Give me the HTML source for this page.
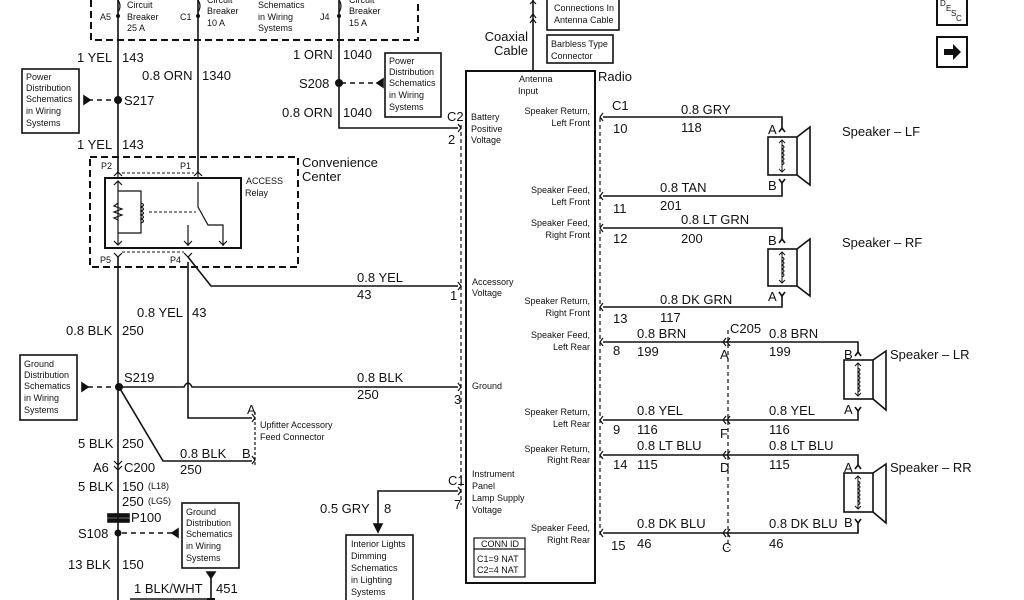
<!DOCTYPE html>
<html><head><meta charset="utf-8"><style>
html,body{margin:0;padding:0;background:#fff;}
svg{display:block;font-family:"Liberation Sans",Arial,sans-serif;}
.l{font-size:13px;fill:#111}
.s{font-size:9px;fill:#111}
.m{font-size:10.5px;fill:#111}
</style></head><body>
<svg width="1024" height="600" viewBox="0 0 1024 600" xmlns="http://www.w3.org/2000/svg" stroke="#111" fill="none" stroke-width="1.6">
<!-- top dashed box -->
<path d="M91 0V40H418V0" stroke-dasharray="7,4" stroke-width="2"/>
<g stroke="none">
<text class="s" x="100" y="20">A5</text>
<text class="s" x="127" y="8">Circuit</text><text class="s" x="127" y="20">Breaker</text><text class="s" x="127" y="31">25 A</text>
<text class="s" x="180" y="20">C1</text>
<text class="s" x="207" y="3">Circuit</text><text class="s" x="207" y="14">Breaker</text><text class="s" x="207" y="26">10 A</text>
<text class="s" x="258" y="8">Schematics</text><text class="s" x="258" y="20">in Wiring</text><text class="s" x="258" y="31">Systems</text>
<text class="s" x="320" y="20">J4</text>
<text class="s" x="349" y="3">Circuit</text><text class="s" x="349" y="14">Breaker</text><text class="s" x="349" y="26">15 A</text>
</g>
<!-- main verticals -->
<path d="M118 0V172M198 0V172M339 0V128H458"/>
<path d="M118 0q4 6 0 12M198 0q4 6 0 12M339 0q4 6 0 12" stroke-width="1.2"/>
<g fill="#111" stroke="none">
<circle cx="118" cy="16" r="2"/><circle cx="198" cy="16" r="2"/><circle cx="339" cy="16" r="2"/>
<circle cx="118" cy="100" r="4"/><circle cx="339" cy="83" r="4"/><circle cx="119" cy="387" r="4"/><circle cx="118" cy="533" r="3.5"/>
</g>
<g stroke="none" class="l">
<text class="l" x="77" y="62">1 YEL</text><text class="l" x="122" y="62">143</text>
<text class="l" x="142" y="80">0.8 ORN</text><text class="l" x="202" y="80">1340</text>
<text class="l" x="124" y="105">S217</text>
<text class="l" x="77" y="149">1 YEL</text><text class="l" x="122" y="149">143</text>
<text class="l" x="293" y="59">1 ORN</text><text class="l" x="343" y="59">1040</text>
<text class="l" x="299" y="88">S208</text>
<text class="l" x="282" y="117">0.8 ORN</text><text class="l" x="343" y="117">1040</text>
<text class="l" x="447" y="121">C2</text><text class="l" x="448" y="144">2</text>
<text class="l" x="302" y="167">Convenience</text><text class="l" x="302" y="181">Center</text>
<text class="l" x="357" y="282">0.8 YEL</text><text class="l" x="357" y="299">43</text><text class="l" x="450" y="300">1</text>
<text class="l" x="137" y="317">0.8 YEL</text><text class="l" x="192" y="317">43</text>
<text class="l" x="66" y="335">0.8 BLK</text><text class="l" x="122" y="335">250</text>
<text class="l" x="124" y="382">S219</text>
<text class="l" x="357" y="382">0.8 BLK</text><text class="l" x="357" y="399">250</text><text class="l" x="454" y="404">3</text>
<text class="l" x="78" y="448">5 BLK</text><text class="l" x="122" y="448">250</text>
<text class="l" x="180" y="458">0.8 BLK</text><text class="l" x="180" y="474">250</text><text class="l" x="242" y="458">B</text>
<text class="l" x="247" y="414">A</text>
<text class="l" x="93" y="472">A6</text><text class="l" x="124" y="472">C200</text>
<text class="l" x="78" y="491">5 BLK</text><text class="l" x="122" y="491">150</text><text class="s" x="148" y="489">(L18)</text>
<text class="l" x="122" y="506">250</text><text class="s" x="148" y="504">(LG5)</text>
<text class="l" x="131" y="522">P100</text>
<text class="l" x="78" y="538">S108</text>
<text class="l" x="68" y="569">13 BLK</text><text class="l" x="122" y="569">150</text>
<text class="l" x="134" y="593">1 BLK/WHT</text><text class="l" x="216" y="593">451</text>
<text class="l" x="320" y="513">0.5 GRY</text><text class="l" x="384" y="513">8</text>
<text class="l" x="448" y="485">C1</text><text class="l" x="454" y="509">7</text>
</g>
<!-- S217 dashed arrow & box -->
<rect x="22" y="69" width="57" height="64"/>
<path d="M88 100H116" stroke-dasharray="5,4"/>
<path d="M84 96l6 4-6 4z" fill="#111"/>
<g stroke="none" class="s"><text x="26" y="80">Power</text><text x="26" y="91">Distribution</text><text x="26" y="102">Schematics</text><text x="26" y="114">in Wiring</text><text x="26" y="126">Systems</text></g>
<!-- S208 box -->
<rect x="385" y="53" width="56" height="64"/>
<path d="M341 83H375" stroke-dasharray="5,4"/>
<path d="M383 79l-6 4 6 4z" fill="#111"/>
<g stroke="none" class="s"><text x="389" y="64">Power</text><text x="389" y="75">Distribution</text><text x="389" y="86">Schematics</text><text x="389" y="98">in Wiring</text><text x="389" y="110">Systems</text></g>
<!-- convenience center -->
<rect x="90" y="157" width="208" height="110" stroke-dasharray="7,4" stroke-width="2"/>
<path d="M118 172V178M198 172V178M114 176l4-4 4 4M194 176l4-4 4 4M114 253l4 4 4-4M184 253l4 4 4-4" stroke-width="1.2"/>
<path d="M122 173H194M122 252H184" stroke-dasharray="3,2" stroke-width="1"/>
<g stroke="none" class="s"><text x="101" y="169">P2</text><text x="180" y="169">P1</text><text x="100" y="263">P5</text><text x="170" y="263">P4</text>
<text x="246" y="184">ACCESS</text><text x="245" y="196">Relay</text></g>
<rect x="105" y="178" width="136" height="70" stroke-width="2"/>
<path d="M118 182V244M118 191H141V233H118" stroke-width="1.2"/>
<path d="M114 185l4-4 4 4M114 241l4 4 4-4" stroke-width="1.2"/>
<path d="M118 203l-4 3 8 3-8 3 8 3-8 3 4 2" stroke-width="1.2"/>
<path d="M141 203q5 2 0 4q5 2 0 4q5 2 0 4q5 2 0 4q5 2 0 4" stroke-width="1.2"/>
<path d="M149 212H196" stroke-dasharray="3,2" stroke-width="1"/>
<path d="M198 182V207L208 225H223V246M188 225V246M184 241l4 4 4-4M219 241l4 4 4-4" stroke-width="1.2"/>
<!-- P4 wire -->
<path d="M188 257L211 286H458M188 262V418H252M118 257V600"/>
<!-- S219 -->
<rect x="20" y="355" width="57" height="65"/>
<path d="M88 387H116" stroke-dasharray="5,4"/>
<path d="M82 383l6 4-6 4z" fill="#111"/>
<g stroke="none" class="s"><text x="24" y="367">Ground</text><text x="24" y="378">Distribution</text><text x="24" y="389">Schematics</text><text x="24" y="401">in Wiring</text><text x="24" y="413">Systems</text></g>
<path d="M119 387H184q4-8 8 0H458M119 387L163 461H252"/>
<path d="M255 412V465" stroke-dasharray="3,2" stroke-width="1.2"/>
<path d="M252 414l3 4-3 4M252 456l3 4-3 4" stroke-width="1.2"/>
<g stroke="none" class="s"><text x="260" y="428">Upfitter Accessory</text><text x="260" y="440">Feed Connector</text></g>
<!-- C200, P100 -->
<path d="M114 461l4 4 4-4M114 466l4 4 4-4" stroke-width="1.2"/>
<rect x="108" y="514" width="21" height="3" fill="#111"/><rect x="108" y="519" width="21" height="3" fill="#111"/>
<rect x="182" y="503" width="57" height="65"/>
<path d="M122 533H172" stroke-dasharray="5,4"/>
<path d="M178 529l-6 4 6 4z" fill="#111"/>
<g stroke="none" class="s"><text x="186" y="515">Ground</text><text x="186" y="526">Distribution</text><text x="186" y="537">Schematics</text><text x="186" y="549">in Wiring</text><text x="186" y="561">Systems</text></g>
<path d="M207 572h8l-4 6z" fill="#111"/>
<path d="M211 578V600M130 599H210"/>
<path d="M207 599h8" stroke-width="2"/>
<!-- C1 pin 7 -->
<path d="M458 491H378V526"/>
<path d="M374 524h8l-4 8z" fill="#111"/>
<rect x="346" y="535" width="67" height="66"/>
<g stroke="none" class="s"><text x="351" y="547">Interior Lights</text><text x="351" y="559">Dimming</text><text x="351" y="571">Schematics</text><text x="351" y="583">in Lighting</text><text x="351" y="595">Systems</text></g>
<!-- radio left connector -->
<path d="M461 125V505" stroke-dasharray="4,3" stroke-width="1.2"/>
<path d="M458 124l3 4-3 4M458 282l3 4-3 4M458 383l3 4-3 4M458 487l3 4-3 4" stroke-width="1.2"/>
<!-- radio -->
<rect x="466" y="71" width="129" height="512" stroke-width="2"/>
<path d="M533 0V71"/>
<path d="M530 4l3-3 3 3M530 18l3-4 3 4M530 23l3-4 3 4" stroke-width="1.2"/>
<rect x="547" y="-2" width="72" height="32"/>
<rect x="547" y="35" width="66" height="28"/>
<g stroke="none">
<text class="s" x="554" y="11">Connections In</text><text class="s" x="554" y="23">Antenna Cable</text>
<text class="s" x="551" y="47">Barbless Type</text><text class="s" x="551" y="59">Connector</text>
<text class="l" x="528" y="41" text-anchor="end">Coaxial</text><text class="l" x="528" y="55" text-anchor="end">Cable</text>
<text class="l" x="598" y="81">Radio</text>
<text class="s" x="519" y="82">Antenna</text><text class="s" x="518" y="94">Input</text>
<text class="s" x="471" y="120">Battery</text><text class="s" x="471" y="132">Positive</text><text class="s" x="471" y="143">Voltage</text>
<text class="s" x="472" y="285">Accessory</text><text class="s" x="472" y="296">Voltage</text>
<text class="s" x="472" y="389">Ground</text>
<text class="s" x="472" y="477">Instrument</text><text class="s" x="472" y="489">Panel</text><text class="s" x="472" y="501">Lamp Supply</text><text class="s" x="472" y="513">Voltage</text>
</g>
<rect x="474" y="538" width="51" height="39" stroke-width="1.2"/><path d="M474 549H525" stroke-width="1.2"/>
<g stroke="none" class="s">
<text x="481" y="547">CONN ID</text><text x="477" y="562">C1=9 NAT</text><text x="477" y="573">C2=4 NAT</text>
</g>
<g stroke="none" class="s" text-anchor="end">
<text x="590" y="114">Speaker Return,</text><text x="590" y="126">Left Front</text>
<text x="590" y="193">Speaker Feed,</text><text x="590" y="205">Left Front</text>
<text x="590" y="226">Speaker Feed,</text><text x="590" y="238">Right Front</text>
<text x="590" y="304">Speaker Return,</text><text x="590" y="316">Right Front</text>
<text x="590" y="338">Speaker Feed,</text><text x="590" y="350">Left Rear</text>
<text x="590" y="415">Speaker Return,</text><text x="590" y="427">Left Rear</text>
<text x="590" y="452">Speaker Return,</text><text x="590" y="463">Right Rear</text>
<text x="590" y="531">Speaker Feed,</text><text x="590" y="543">Right Rear</text>
</g>
<!-- right connector -->
<path d="M600 118V535" stroke-dasharray="4,3" stroke-width="1.2"/>
<path d="M603 113l-3 4 3 4M603 192l-3 4 3 4M603 224l-3 4 3 4M603 303l-3 4 3 4M603 338l-3 4 3 4M603 416l-3 4 3 4M603 451l-3 4 3 4M603 529l-3 4 3 4" stroke-width="1.2"/>
<path d="M603 117H782V128M603 196H782V183M603 228H782V239M603 307H782V296M603 342H858V352M603 420H858V411M603 455H858V465M603 533H858V522"/>
<path d="M728 330V548" stroke-dasharray="4,3" stroke-width="1.2"/>
<path d="M726 338l-3 4 3 4M730 338l-3 4 3 4M726 416l-3 4 3 4M730 416l-3 4 3 4M726 451l-3 4 3 4M730 451l-3 4 3 4M726 529l-3 4 3 4M730 529l-3 4 3 4" stroke-width="1.2"/>
<g stroke="none" class="l">
<text x="612" y="110">C1</text>
<text x="681" y="114">0.8 GRY</text><text x="681" y="132">118</text><text x="613" y="133">10</text>
<text x="660" y="192">0.8 TAN</text><text x="660" y="210">201</text><text x="613" y="213">11</text>
<text x="681" y="224">0.8 LT GRN</text><text x="681" y="243">200</text><text x="613" y="243">12</text>
<text x="660" y="304">0.8 DK GRN</text><text x="660" y="322">117</text><text x="613" y="323">13</text>
<text x="730" y="333">C205</text>
<text x="637" y="338">0.8 BRN</text><text x="637" y="356">199</text><text x="613" y="355">8</text>
<text x="769" y="338">0.8 BRN</text><text x="769" y="356">199</text><text x="720" y="359">A</text>
<text x="637" y="415">0.8 YEL</text><text x="637" y="434">116</text><text x="613" y="434">9</text>
<text x="769" y="415">0.8 YEL</text><text x="769" y="434">116</text><text x="720" y="438">F</text>
<text x="637" y="450">0.8 LT BLU</text><text x="637" y="469">115</text><text x="613" y="469">14</text>
<text x="769" y="450">0.8 LT BLU</text><text x="769" y="469">115</text><text x="720" y="472">D</text>
<text x="637" y="528">0.8 DK BLU</text><text x="637" y="548">46</text><text x="611" y="550">15</text>
<text x="769" y="528">0.8 DK BLU</text><text x="769" y="548">46</text><text x="722" y="552">C</text>
<text x="768" y="134">A</text><text x="768" y="190">B</text><text x="842" y="136">Speaker – LF</text>
<text x="768" y="245">B</text><text x="768" y="301">A</text><text x="842" y="247">Speaker – RF</text>
<text x="844" y="359">B</text><text x="844" y="414">A</text><text x="890" y="359">Speaker – LR</text>
<text x="844" y="472">A</text><text x="844" y="527">B</text><text x="890" y="472">Speaker – RR</text>
</g>
<!-- speakers -->
<g stroke-width="1.6">
<path d="M779 132l3-4 3 4M779 179l3 4 3-4"/>
<rect x="768" y="137" width="29" height="38"/><path d="M797 137L810 127V185L797 175"/>
<path d="M782 140V172M779 143l3-3 3 3M779 169l3 3 3-3M782 145q4 2 0 4q4 2 0 4q4 2 0 4q4 2 0 4q4 2 0 4" stroke-width="1"/>
<path d="M779 243l3-4 3 4M779 292l3 4 3-4"/>
<rect x="768" y="249" width="29" height="37"/><path d="M797 249L810 239V296L797 286"/>
<path d="M782 252V283M779 255l3-3 3 3M779 280l3 3 3-3M782 257q4 2 0 4q4 2 0 4q4 2 0 4q4 2 0 4q4 2 0 4" stroke-width="1"/>
<path d="M855 356l3-4 3 4M855 407l3 4 3-4"/>
<rect x="844" y="360" width="29" height="39"/><path d="M873 360L886 351V410L873 399"/>
<path d="M858 363V396M855 366l3-3 3 3M855 393l3 3 3-3M858 368q4 2 0 4q4 2 0 4q4 2 0 4q4 2 0 4q4 2 0 4q4 2 0 4" stroke-width="1"/>
<path d="M855 469l3-4 3 4M855 519l3 4 3-4"/>
<rect x="844" y="473" width="29" height="39"/><path d="M873 473L886 464V523L873 512"/>
<path d="M858 476V509M855 479l3-3 3 3M855 506l3 3 3-3M858 481q4 2 0 4q4 2 0 4q4 2 0 4q4 2 0 4q4 2 0 4q4 2 0 4" stroke-width="1"/>
</g>
<!-- top right icons -->
<rect x="937" y="-2" width="30" height="27" stroke-width="2"/>
<g stroke="none" style="font-size:8px" fill="#111"><text x="940" y="6">D</text><text x="946" y="11">E</text><text x="951" y="16">S</text><text x="956" y="21">C</text></g>
<rect x="937" y="37" width="30" height="30" stroke-width="2"/>
<path d="M944 49h9v-5l8 8-8 8v-5h-9z" fill="#111" stroke="none"/>
</svg>
</body></html>
